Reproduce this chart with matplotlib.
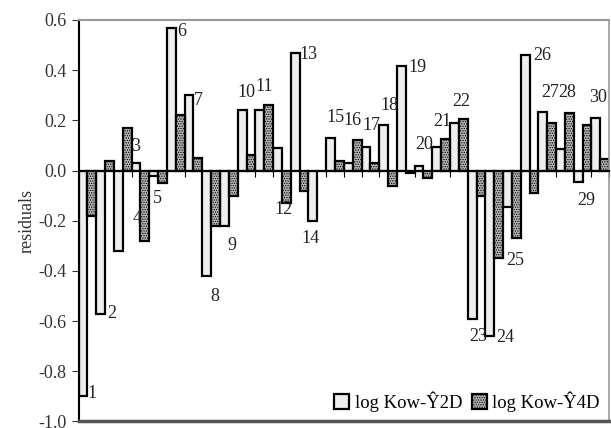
import numpy as np
import matplotlib
matplotlib.use("Agg")
import matplotlib.pyplot as plt

plt.rcParams['font.family'] = ['Liberation Serif', 'DejaVu Serif']
plt.rcParams['axes.unicode_minus'] = False
plt.rcParams['hatch.color'] = '#555555'
plt.rcParams['hatch.linewidth'] = 0.6

# residuals, compounds 1..30
compounds = np.arange(1, 31)
res_2d = [-0.90, -0.57, -0.32, 0.03, -0.02, 0.57, 0.30, -0.42, -0.22, 0.24,
          0.24, 0.09, 0.47, -0.20, 0.13, 0.03, 0.095, 0.18, 0.415, 0.02,
          0.095, 0.19, -0.59, -0.66, -0.145, 0.46, 0.235, 0.085, -0.045, 0.21]
res_4d = [-0.18, 0.04, 0.17, -0.28, -0.05, 0.22, 0.05, -0.22, -0.10, 0.06,
          0.26, -0.13, -0.08, 0.0, 0.04, 0.12, 0.03, -0.06, -0.01, -0.03,
          0.125, 0.205, -0.10, -0.35, -0.27, -0.09, 0.19, 0.23, 0.18, 0.045]

# where each compound number sits (x in group units, y in residual units)
label_x = [1.26, 2.39, 3.75, 3.8, 4.94, 6.35, 7.3, 8.22, 9.18, 9.97,
           10.99, 12.07, 13.48, 13.6, 15.0, 16.0, 17.05, 18.06, 19.65, 20.04,
           21.06, 22.13, 23.09, 24.62, 25.18, 26.71, 27.17, 28.13, 29.2, 29.88]
label_y = [-0.887, -0.57, 0.094, -0.19, -0.11, 0.556, 0.28, -0.50, -0.30, 0.31,
           0.333, -0.155, 0.464, -0.27, 0.21, 0.20, 0.18, 0.26, 0.41, 0.105,
           0.197, 0.277, -0.66, -0.667, -0.357, 0.46, 0.31, 0.31, -0.12, 0.29]

yticks = [-1.0, -0.8, -0.6, -0.4, -0.2, 0.0, 0.2, 0.4, 0.6]

fig = plt.figure(figsize=(6.11, 4.28), dpi=100)
ax = fig.add_axes([0.1285, 0.0152, 0.8685, 0.9381])

w = 0.5
ax.bar(compounds - w / 2, res_2d, width=w, facecolor='#eeeeee',
       edgecolor='black', linewidth=1.6, label='log Kow-Ŷ2D', zorder=2)
ax.bar(compounds + w / 2, res_4d, width=w, facecolor='#b4b4b4',
       edgecolor='black', linewidth=1.6, hatch='.......',
       label='log Kow-Ŷ4D', zorder=2)

for n, lx, ly in zip(compounds, label_x, label_y):
    ax.text(lx, ly, str(n), ha='center', va='center', fontsize=13,
            color='#222222', zorder=3)

ax.set_xlim(0.5, 30.5)
ax.set_ylim(-1.0, 0.6)
ax.set_yticks(yticks)
ax.set_yticklabels(['%.1f' % v for v in yticks])
ax.tick_params(axis='y', direction='out', length=5, labelsize=13,
               colors='#333333')
ax.set_ylabel('residuals', fontsize=13, color='#333333', labelpad=2)

# x axis drawn through zero, ticks between the groups, no labels
ax.spines['bottom'].set_position(('data', 0))
ax.spines['bottom'].set_linewidth(1.5)
ax.set_xticks(np.arange(0.5, 31, 1))
ax.set_xticklabels([])
ax.tick_params(axis='x', direction='out', length=4, width=0.8)
ax.spines['left'].set_linewidth(1.5)
ax.spines['top'].set_color('#999999')
ax.spines['right'].set_color('#999999')
ax.spines['top'].set_linewidth(1.5)
ax.spines['right'].set_linewidth(1.2)
ax.axhline(-1.0, color='#555555', linewidth=2.5, clip_on=False, zorder=4)

ax.legend(loc='lower right', ncol=2, frameon=False, fontsize=13.5,
          handlelength=0.8, handleheight=0.8, handletextpad=0.3,
          columnspacing=0.5, borderaxespad=0.1)

fig.savefig('out.png', dpi=100)
